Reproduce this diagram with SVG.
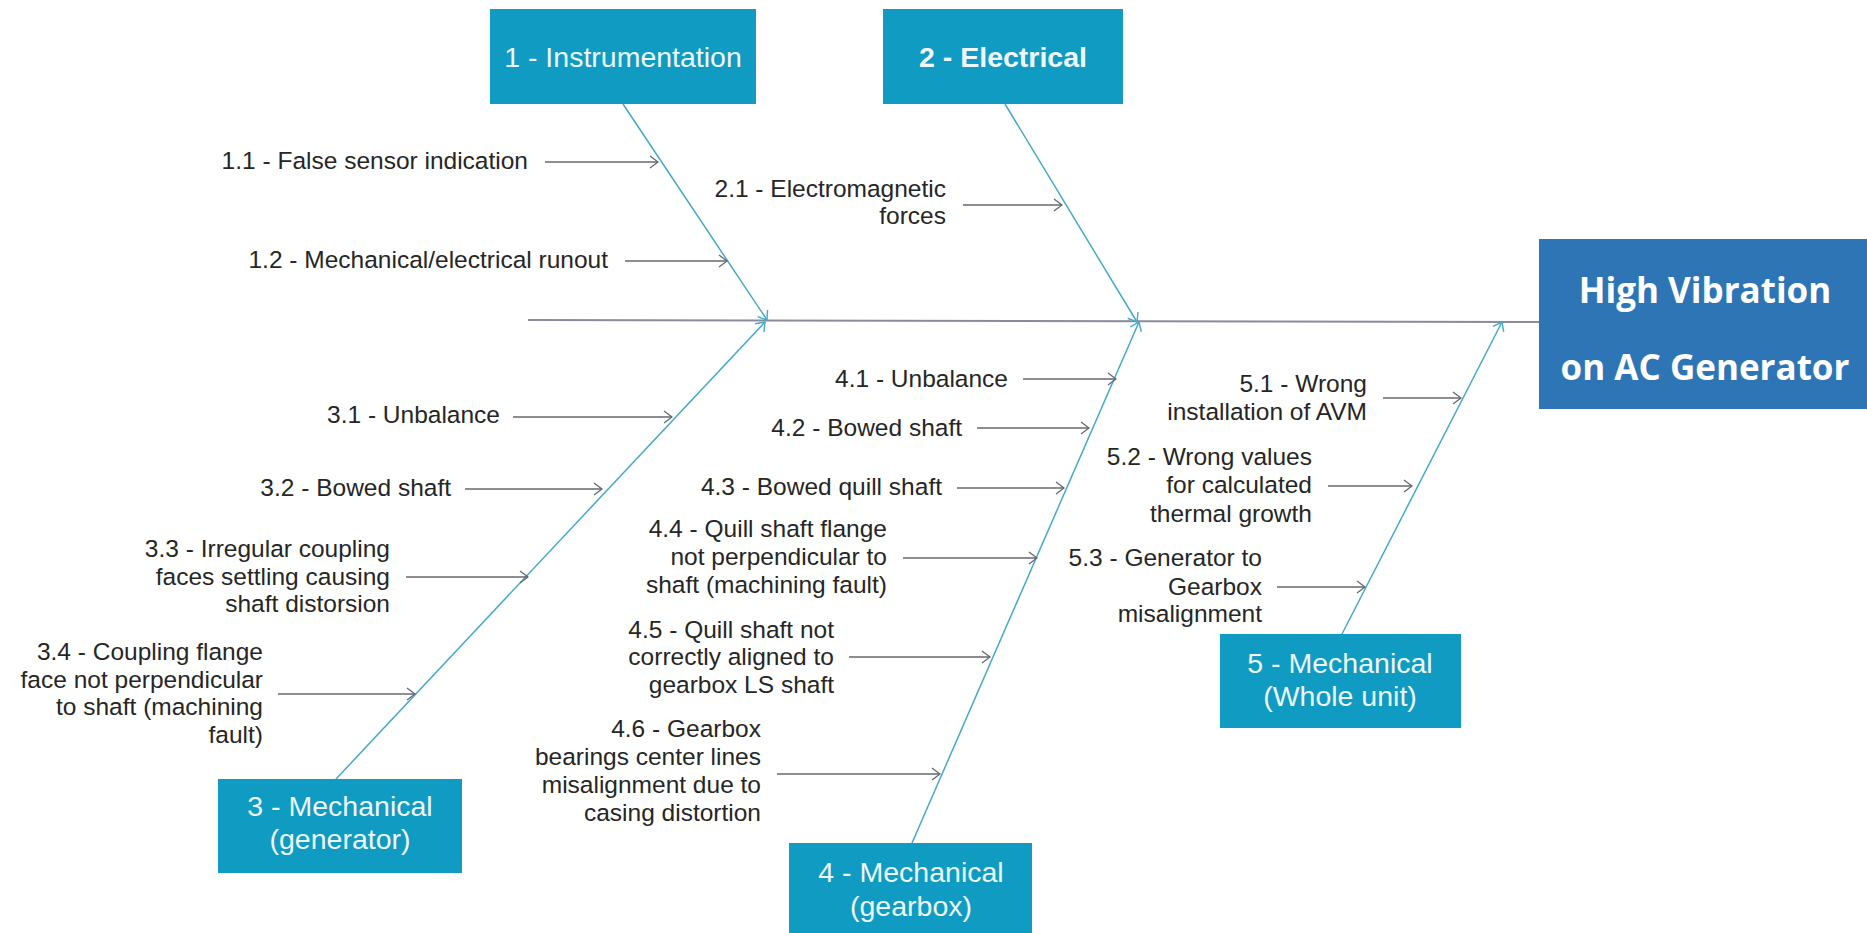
<svg xmlns="http://www.w3.org/2000/svg" width="1867" height="933" viewBox="0 0 1867 933">
<defs>
<style>
.cat{fill:#0f9bc2}
.eff{fill:#2e75b6}
.lbl{font-family:"Liberation Sans",Arial,sans-serif;font-size:28.5px;fill:#eef8fb;text-anchor:middle}
.b{font-weight:bold}
.efft{font-family:"Open Sans","Noto Sans",sans-serif;font-weight:bold;font-size:35px;fill:#ffffff;text-anchor:middle}
.t{font-family:"Liberation Sans",Arial,sans-serif;font-size:24.5px;fill:#262626;text-anchor:end}
.sub{stroke:#666870;stroke-width:1.4;fill:none;marker-end:url(#ag)}
.bone{stroke:#45a9c9;stroke-width:1.5;fill:none;marker-end:url(#ab)}
.spine{stroke:#8a8c9c;stroke-width:2;fill:none}
</style>
<marker id="ag" markerUnits="userSpaceOnUse" viewBox="-1 -1 10 14" refX="8" refY="6" markerWidth="10" markerHeight="14" orient="auto">
<path d="M0,0 L8,6 L0,12" fill="none" stroke="#666870" stroke-width="1.3"/>
</marker>
<marker id="ab" markerUnits="userSpaceOnUse" viewBox="-1 -1 10 14" refX="8" refY="6" markerWidth="10" markerHeight="14" orient="auto">
<path d="M0,0 L8,6 L0,12" fill="none" stroke="#45a9c9" stroke-width="1.4"/>
</marker>
</defs>
<rect width="1867" height="933" fill="#ffffff"/>

<g id="connectors">
<path class="spine" d="M528,320 L1539,322"/>
<path class="bone" d="M623,104 L767,320"/>
<path class="bone" d="M1005,104 L1137,322"/>
<path class="bone" d="M336,779 L765,322"/>
<path class="bone" d="M912,843 L1139,322"/>
<path class="bone" d="M1342,634 L1502,322"/>
<path class="sub" d="M545,162 L658,162"/>
<path class="sub" d="M625,261 L727,261"/>
<path class="sub" d="M963,205 L1062,205"/>
<path class="sub" d="M513,417 L672,417"/>
<path class="sub" d="M465,489 L602,489"/>
<path class="sub" d="M406,577 L528,577"/>
<path class="sub" d="M278,694 L415,694"/>
<path class="sub" d="M1023,379 L1116,379"/>
<path class="sub" d="M977,428 L1089,428"/>
<path class="sub" d="M957,488 L1064,488"/>
<path class="sub" d="M903,558 L1037,558"/>
<path class="sub" d="M849,657 L990,657"/>
<path class="sub" d="M777,774 L940,774"/>
<path class="sub" d="M1383,398 L1461,398"/>
<path class="sub" d="M1328,486 L1412,486"/>
<path class="sub" d="M1277,587 L1365,587"/>
</g>

<g id="effect">
<rect class="eff" x="1539" y="239" width="328" height="170"/>
<text class="efft" x="1705" y="303">High Vibration</text>
<text class="efft" x="1705" y="380">on AC Generator</text>
</g>

<g id="cat1">
<rect class="cat" x="490" y="9" width="266" height="95"/>
<text class="lbl" x="623" y="67">1 - Instrumentation</text>
</g>
<g id="cat2">
<rect class="cat" x="883" y="9" width="240" height="95"/>
<text class="lbl b" x="1003" y="67">2 - Electrical</text>
</g>
<g id="cat3">
<rect class="cat" x="218" y="779" width="244" height="94"/>
<text class="lbl" x="340" y="816">3 - Mechanical</text>
<text class="lbl" x="340" y="849">(generator)</text>
</g>
<g id="cat4">
<rect class="cat" x="789" y="843" width="243" height="90"/>
<text class="lbl" x="911" y="882">4 - Mechanical</text>
<text class="lbl" x="911" y="916">(gearbox)</text>
</g>
<g id="cat5">
<rect class="cat" x="1220" y="634" width="241" height="94"/>
<text class="lbl" x="1340" y="673">5 - Mechanical</text>
<text class="lbl" x="1340" y="706">(Whole unit)</text>
</g>

<g id="c1-1"><text class="t" x="528" y="169">1.1 - False sensor indication</text></g>
<g id="c1-2"><text class="t" x="608" y="268">1.2 - Mechanical/electrical runout</text></g>
<g id="c2-1"><text class="t" x="946" y="197">2.1 - Electromagnetic</text><text class="t" x="946" y="224">forces</text></g>
<g id="c3-1"><text class="t" x="500" y="423">3.1 - Unbalance</text></g>
<g id="c3-2"><text class="t" x="451" y="496">3.2 - Bowed shaft</text></g>
<g id="c3-3"><text class="t" x="390" y="557">3.3 - Irregular coupling</text><text class="t" x="390" y="585">faces settling causing</text><text class="t" x="390" y="612">shaft distorsion</text></g>
<g id="c3-4"><text class="t" x="263" y="660">3.4 - Coupling flange</text><text class="t" x="263" y="688">face not perpendicular</text><text class="t" x="263" y="715">to shaft (machining</text><text class="t" x="263" y="743">fault)</text></g>
<g id="c4-1"><text class="t" x="1008" y="387">4.1 - Unbalance</text></g>
<g id="c4-2"><text class="t" x="962" y="436">4.2 - Bowed shaft</text></g>
<g id="c4-3"><text class="t" x="942" y="495">4.3 - Bowed quill shaft</text></g>
<g id="c4-4"><text class="t" x="887" y="537">4.4 - Quill shaft flange</text><text class="t" x="887" y="565">not perpendicular to</text><text class="t" x="887" y="593">shaft (machining fault)</text></g>
<g id="c4-5"><text class="t" x="834" y="638">4.5 - Quill shaft not</text><text class="t" x="834" y="665">correctly aligned to</text><text class="t" x="834" y="693">gearbox LS shaft</text></g>
<g id="c4-6"><text class="t" x="761" y="737">4.6 - Gearbox</text><text class="t" x="761" y="765">bearings center lines</text><text class="t" x="761" y="793">misalignment due to</text><text class="t" x="761" y="821">casing distortion</text></g>
<g id="c5-1"><text class="t" x="1367" y="392">5.1 - Wrong</text><text class="t" x="1367" y="420">installation of AVM</text></g>
<g id="c5-2"><text class="t" x="1312" y="465">5.2 - Wrong values</text><text class="t" x="1312" y="493">for calculated</text><text class="t" x="1312" y="522">thermal growth</text></g>
<g id="c5-3"><text class="t" x="1262" y="566">5.3 - Generator to</text><text class="t" x="1262" y="595">Gearbox</text><text class="t" x="1262" y="622">misalignment</text></g>
</svg>
